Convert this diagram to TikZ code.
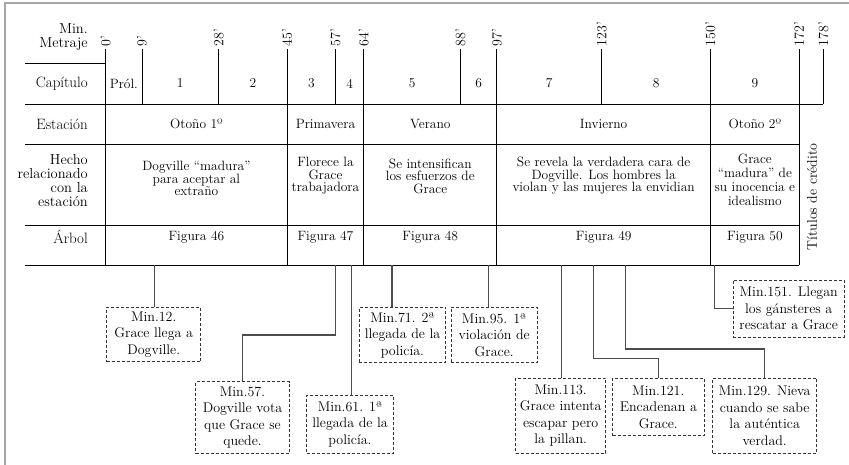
\documentclass[tikz,border=0pt]{standalone}
\usepackage{fontspec}
\usetikzlibrary{calc}

% minute -> horizontal position
\newcommand{\minx}[1]{105.7+4.032*#1}

\begin{document}
\begin{tikzpicture}[x=1pt, y=-1pt,
    grid/.style={line width=0.8pt, black},
    minlab/.style={rotate=90, anchor=west, inner sep=0pt, font=\fontsize{14}{14}\selectfont},
    rowlab/.style={align=right, anchor=east, inner sep=0pt, font=\fontsize{15}{14.5}\selectfont},
    cell/.style={align=center, inner sep=0pt, font=\fontsize{13.5}{12.5}\selectfont},
    callout/.style={draw=black!80, line width=0.8pt, dash pattern=on 3pt off 2pt, align=center, inner sep=0pt, font=\fontsize{14}{16.5}\selectfont},
    link/.style={draw=black!70, line width=1.1pt}]

    \useasboundingbox (0,0) rectangle (849,465);
    \draw[gray!70, line width=1.5pt] (5,465) -- (5,3) -- (849,3);

    % row labels
    \node[rowlab, font=\fontsize{14.5}{13.5}\selectfont] (lmin) at (88,37) {Min.\\Metraje};
    \node[rowlab] (lcap) at (88,83.5) {Capítulo};
    \node[rowlab] (lest) at (88,124) {Estación};
    \node[rowlab, font=\fontsize{14.5}{14}\selectfont] (lhec) at (88,181) {Hecho\\relacionado\\con la\\estación};
    \node[rowlab] (larb) at (88,237) {Árbol};

    % grid
    \draw[grid] (25,63.3) -- ({\minx{0}},63.3);
    \draw[grid] (25,104) -- ({\minx{178}},104);
    \foreach \yy in {144,225.7,265}
        \draw[grid] (25,\yy) -- ({\minx{172}},\yy);
    \foreach \m/\yb in {0/265,9/104,28/104,45/265,57/104,64/265,88/104,97/265,123/104,150/265,172/265,178/104} {
        \draw[grid] ({\minx{\m}},49.3) -- ({\minx{\m}},\yb);
        \node[minlab] (n\m) at ({\minx{\m}},46.5) {\m’};
    }

    % chapters
    \foreach \m/\t [count=\i] in {4.5/Pról.,18.5/1,36.5/2,51/3,60.5/4,76/5,92.5/6,110/7,136.5/8,161/9}
        \node[cell] (c\i) at ({\minx{\m}},83.5) {\t};

    % seasons and trees
    \foreach \m/\s/\f [count=\i] in {22.5/Otoño 1º/46,54.5/Primavera/47,80.5/Verano/48,123.5/Invierno/49,161/Otoño 2º/50} {
        \node[cell] (e\i) at ({\minx{\m}},124) {\s};
        \node[cell] (f\f) at ({\minx{\m}},237) {Figura \f};
    }

    % events
    \node[cell] (h1) at ({\minx{22.5}},178.5) {Dogville “madura”\\para aceptar al\\extraño};
    \node[cell] (h2) at ({\minx{54.5}},176) {Florece la\\Grace\\trabajadora};
    \node[cell] (h3) at ({\minx{80.5}},176) {Se intensifican\\los esfuerzos de\\Grace};
    \node[cell] (h4) at ({\minx{123.5}},176) {Se revela la verdadera cara de\\Dogville. Los hombres la\\violan y las mujeres la envidian};
    \node[cell, font=\fontsize{13.5}{13.9}\selectfont] (h5) at ({\minx{161}},180) {Grace\\“madura” de\\su inocencia e\\idealismo};

    \node[cell, rotate=90, font=\fontsize{14}{14}\selectfont] (tit) at (812,197) {Títulos de crédito};

    % callouts
    \foreach \m in {12,57,61,71,95,113,121,129,151}
        \coordinate (t\m) at ({\minx{\m}},265);

    \node[callout, minimum width=94, minimum height=54.4] (m12) at (153.7,334.5) {Min.12.\\Grace llega a\\Dogville.};
    \node[callout, minimum width=93.6, minimum height=71.6] (m57) at (242.5,417.5) {Min.57.\\Dogville vota\\que Grace se\\quede.};
    \node[callout, minimum width=86.6, minimum height=58.3] (m61) at (350,424.2) {Min.61. 1ª\\llegada de la\\policía.};
    \node[callout, minimum width=86.4, minimum height=55.4] (m71) at (402.5,335) {Min.71. 2ª\\llegada de la\\policía.};
    \node[callout, minimum width=86.3, minimum height=55.4] (m95) at (494.2,335) {Min.95. 1ª\\violación de\\Grace.};
    \node[callout, minimum width=90, minimum height=75] (m113) at (560.7,415.8) {Min.113.\\Grace intenta\\escapar pero\\la pillan.};
    \node[callout, minimum width=91.3, minimum height=57.4] (m121) at (658.3,407) {Min.121.\\Encadenan a\\Grace.};
    \node[callout, minimum width=104, minimum height=75] (m129) at (764.7,415.8) {Min.129. Nieva\\cuando se sabe\\la auténtica\\verdad.};
    \node[callout, minimum width=110.7, minimum height=57.3] (m151) at (788.7,308.7) {Min.151. Llegan\\los gánsteres a\\rescatar a Grace};

    % links
    \draw[link] (t12) -- (t12 |- m12.north);
    \draw[link] (t57) -- ++(0,70) -| (m57.north);
    \draw[link] (t61) -- (t61 |- m61.north);
    \draw[link] (t71) -- (t71 |- m71.north);
    \draw[link] (t95) -- (t95 |- m95.north);
    \draw[link] (t113) -- (t113 |- m113.north);
    \draw[link] (t121) -- ++(0,93.3) -| (m121.north);
    \draw[link] (t129) -- ++(0,84) -| (m129.north);
    \draw[link] (t151) |- (m151.west);
\end{tikzpicture}
\end{document}
